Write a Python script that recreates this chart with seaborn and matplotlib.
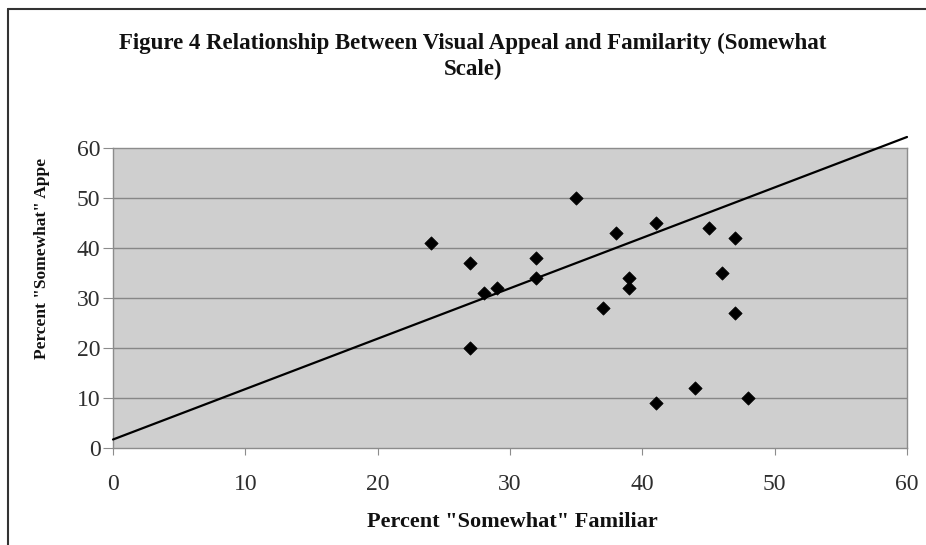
import matplotlib
matplotlib.use("Agg")
import matplotlib.pyplot as plt
from matplotlib.lines import Line2D
import seaborn as sns
import pandas as pd

# Survey results: percent answering "somewhat" for each item
familiar = [24, 27, 27, 28, 29, 32, 32, 35, 37, 38, 39, 39, 41, 41, 44, 45, 46, 47, 47, 48]
appeal = [41, 37, 20, 31, 32, 38, 34, 50, 28, 43, 34, 32, 45, 9, 12, 44, 35, 42, 27, 10]

# Straight reference line across the chart
line_x = [0, 60]
line_y = [1.7, 62.2]

ticks = [0, 10, 20, 30, 40, 50, 60]

title_lines = ["Figure 4 Relationship Between Visual Appeal and Familarity (Somewhat",
               "Scale)"]
x_label = 'Percent "Somewhat" Familiar'
y_label = 'Percent "Somewhat" Appe'

df = pd.DataFrame({"familiar": familiar, "appeal": appeal})

sns.set_theme(style="white")
plt.rcParams["font.family"] = ["Liberation Serif", "DejaVu Serif"]

W, H = 926, 545
fig = plt.figure(figsize=(W / 100, H / 100), dpi=100)
fig.patch.set_facecolor("white")

left, right, top, bottom = 113, 907, 148, 448
ax = fig.add_axes([left / W, 1 - bottom / H, (right - left) / W, (bottom - top) / H])
ax.set_facecolor("#cfcfcf")

sns.scatterplot(data=df, x="familiar", y="appeal", ax=ax, marker="D",
                color="black", s=46, edgecolor="black", linewidth=0.5, zorder=3)
sns.lineplot(x=line_x, y=line_y, ax=ax, color="black", linewidth=1.6,
             clip_on=False, zorder=4)

ax.set_xlim(0, 60)
ax.set_ylim(0, 60)
ax.set_xticks(ticks)
ax.set_yticks(ticks)
ax.set_xticklabels([str(t) for t in ticks])
ax.set_yticklabels([str(t) for t in ticks])

ax.grid(False)
for t in ticks[1:-1]:
    ax.axhline(t, color="#878787", linewidth=1.0, zorder=1)

for side in ["top", "right", "left", "bottom"]:
    ax.spines[side].set_visible(True)
    ax.spines[side].set_color("#8c8c8c")
    ax.spines[side].set_linewidth(1.0)

ax.tick_params(axis="y", which="major", direction="out", length=7, width=0.8,
               color="#8c8c8c", pad=2, labelsize=17, labelcolor="#2e2e2e", left=True)
ax.tick_params(axis="x", which="major", direction="out", length=5, width=0.8,
               color="#8c8c8c", pad=14, labelsize=17, labelcolor="#2e2e2e", bottom=True)

ax.set_xlabel("")
ax.set_ylabel("")

fig.text(473 / W, 1 - 43 / H, title_lines[0], ha="center", va="center",
         fontsize=16.5, fontweight="bold", color="#111111")
fig.text(473 / W, 1 - 69 / H, title_lines[1], ha="center", va="center",
         fontsize=16.5, fontweight="bold", color="#111111")
fig.text(512 / W, 1 - 522 / H, x_label, ha="center", va="center",
         fontsize=16, fontweight="bold", color="#111111")
fig.text(42 / W, 1 - 258 / H, y_label, ha="center", va="center", rotation=90,
         fontsize=12.5, fontweight="bold", color="#111111")

# Chart area frame (top and left edges)
fig.add_artist(Line2D([8 / W, 1.0], [1 - 9 / H, 1 - 9 / H], transform=fig.transFigure,
                      color="#333333", linewidth=1.5))
fig.add_artist(Line2D([8 / W, 8 / W], [0.0, 1 - 9 / H], transform=fig.transFigure,
                      color="#333333", linewidth=1.5))

fig.savefig("out.png", dpi=100, facecolor="white")
